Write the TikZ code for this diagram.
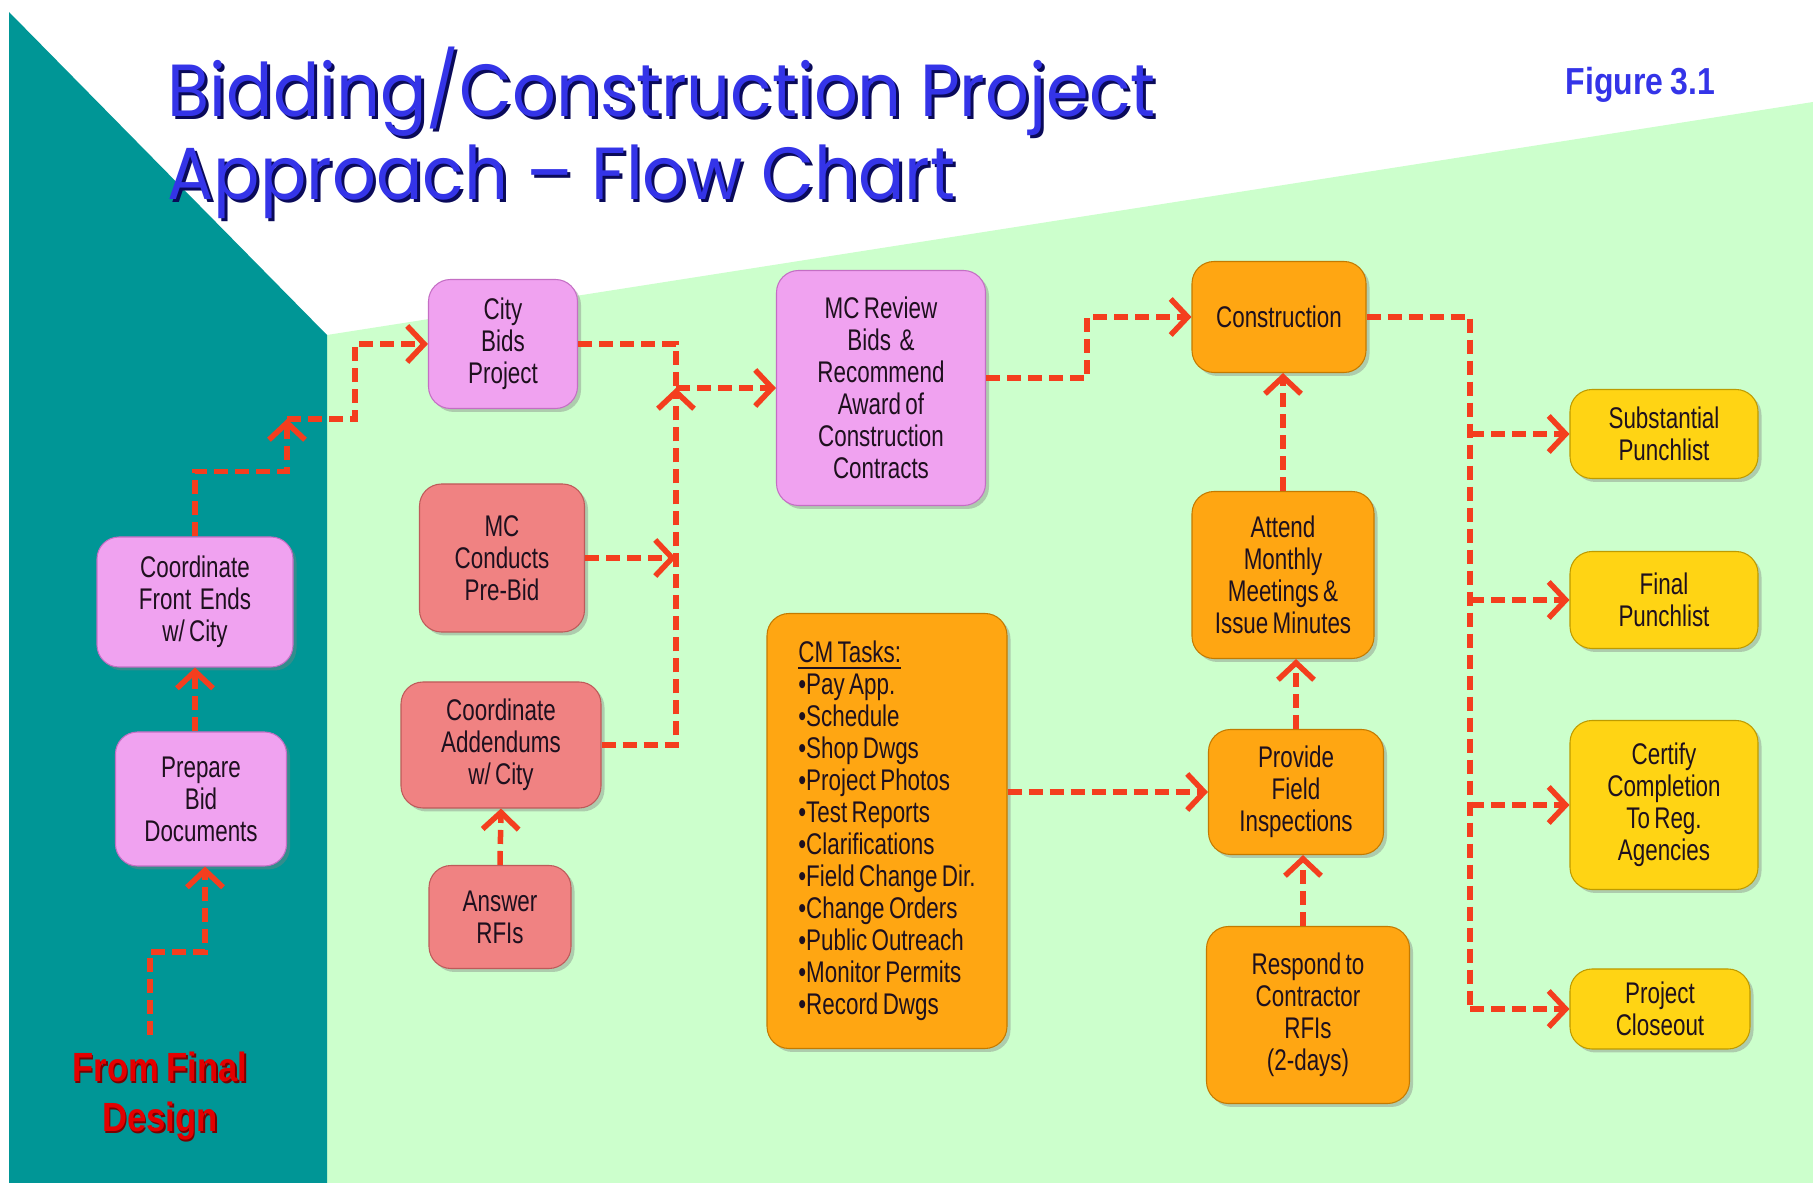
\documentclass[tikz,border=0pt]{standalone}
\usepackage{fontspec}
\setmainfont{Liberation Sans}[FakeStretch=0.75,WordSpace=0.7]
\newfontfamily\titlefont{Poppins}[FakeStretch=0.93]
\newfontfamily\figfont{Liberation Sans}[FakeStretch=0.85,WordSpace=0.8]
\usetikzlibrary{arrows.meta,shadows}
\definecolor{bggreen}{RGB}{204,255,204}
\definecolor{bgteal}{RGB}{0,150,150}
\definecolor{pinkfill}{RGB}{240,162,240}
\definecolor{pinkline}{RGB}{196,110,196}
\definecolor{salmonfill}{RGB}{240,130,130}
\definecolor{salmonline}{RGB}{190,90,90}
\definecolor{orangefill}{RGB}{255,166,18}
\definecolor{orangeline}{RGB}{196,122,0}
\definecolor{yellowfill}{RGB}{255,212,20}
\definecolor{yellowline}{RGB}{190,155,0}
\definecolor{arrowred}{RGB}{244,62,30}
\definecolor{boxtext}{RGB}{30,16,30}
\definecolor{titleblue}{RGB}{52,52,232}
\definecolor{titleshade}{RGB}{10,10,90}
\definecolor{designred}{RGB}{228,0,0}
\definecolor{designshade}{RGB}{120,0,0}
\newcommand{\shadowed}[3]{\makebox[0pt][l]{\hspace{#3}\raisebox{-#3}{\color{#1}#2}}#2}
\begin{document}
\begin{tikzpicture}[x=0.1mm,y=-0.1mm,
  box/.style={draw, rounded corners=2.2mm, line width=0.3pt, align=center, inner sep=0pt, text=boxtext,
    font=\fontsize{8.5}{9.1}\selectfont, drop shadow={shadow xshift=0.35mm,shadow yshift=-0.35mm,opacity=0.4}},
  pinkbox/.style={box, fill=pinkfill, draw=pinkline},
  salmonbox/.style={box, fill=salmonfill, draw=salmonline},
  orangebox/.style={box, fill=orangefill, draw=orangeline},
  yellowbox/.style={box, fill=yellowfill, draw=yellowline},
  flowline/.style={draw=arrowred, line width=0.55mm, dash pattern=on 1.4mm off 0.7mm},
  flow/.style={flowline, -{Straight Barb[length=1.7mm,width=3.6mm]}}]
\useasboundingbox (0,0) rectangle (1813,1183);
\fill[white] (0,0) rectangle (1813,1183);
\fill[bggreen] (327,335) -- (1813,102) -- (1813,1183) -- (327,1183) -- cycle;
\fill[bgteal] (9,12) -- (327,335) -- (327,1183) -- (9,1183) -- cycle;

\node[anchor=base west, inner sep=0pt, text=titleblue, font=\titlefont\fontsize{21}{24}\selectfont] (title1) at (167,117) {\shadowed{titleshade}{Bidding/Construction Project}{0.3mm}};
\node[anchor=base west, inner sep=0pt, text=titleblue, font=\titlefont\fontsize{21}{24}\selectfont] (title2) at (167,200) {\shadowed{titleshade}{Approach – Flow Chart}{0.3mm}};
\node[anchor=base west, inner sep=0pt, text=titleblue, font=\figfont\bfseries\fontsize{10.7}{12}\selectfont] (fig) at (1565,95) {Figure 3.1};
\node[align=center, inner sep=0pt, text=designred, font=\figfont\bfseries\fontsize{11.6}{14.2}\selectfont] (design) at (160,1097) {\shadowed{designshade}{From Final}{0.15mm}\\\shadowed{designshade}{Design}{0.15mm}};

\node[pinkbox, minimum width=19.6mm, minimum height=13mm] (front) at (195,602) {Coordinate\\Front\ \ Ends\\w/ City};
\node[pinkbox, minimum width=17.1mm, minimum height=13.4mm] (prep) at (201,799) {Prepare\\Bid\\Documents};
\node[pinkbox, minimum width=14.9mm, minimum height=12.9mm] (city) at (503,344) {City\\Bids\\Project};
\node[salmonbox, minimum width=16.5mm, minimum height=14.8mm] (mcc) at (502,558) {MC\\Conducts\\Pre-Bid};
\node[salmonbox, minimum width=20mm, minimum height=12.6mm] (addm) at (501,745) {Coordinate\\Addendums\\w/ City};
\node[salmonbox, minimum width=14.2mm, minimum height=10.3mm] (rfi) at (500,917) {Answer\\RFIs};
\node[pinkbox, minimum width=20.9mm, minimum height=23.5mm] (review) at (881,388) {MC Review\\Bids\ \ \&\\Recommend\\Award of\\Construction\\Contracts};
\node[orangebox, minimum width=24mm, minimum height=43.5mm, align=left] (tasks) at (887,831) {\underline{CM Tasks:}\\•Pay App.\\•Schedule\\•Shop Dwgs\\•Project Photos\\•Test Reports\\•Clarifications\\•Field Change Dir.\\•Change Orders\\•Public Outreach\\•Monitor Permits\\•Record Dwgs};
\node[orangebox, minimum width=17.4mm, minimum height=11.1mm] (constr) at (1279,317) {Construction};
\node[orangebox, minimum width=18.2mm, minimum height=16.7mm] (attend) at (1283,575) {Attend\\Monthly\\Meetings \&\\Issue Minutes};
\node[orangebox, minimum width=17.5mm, minimum height=12.5mm] (provide) at (1296,792) {Provide\\Field\\Inspections};
\node[orangebox, minimum width=20.3mm, minimum height=17.7mm] (respond) at (1308,1015) {Respond to\\Contractor\\RFIs\\(2-days)};
\node[yellowbox, minimum width=18.8mm, minimum height=8.9mm] (subst) at (1664,434) {Substantial\\Punchlist};
\node[yellowbox, minimum width=18.8mm, minimum height=9.7mm] (final) at (1664,600) {Final\\Punchlist};
\node[yellowbox, minimum width=18.8mm, minimum height=16.9mm] (certify) at (1664,805) {Certify\\Completion\\To Reg.\\Agencies};
\node[yellowbox, minimum width=18mm, minimum height=8mm] (closeout) at (1660,1009) {Project\\Closeout};

\coordinate (start) at (150,1035);
\coordinate (j1) at (287,419);
\coordinate (j2) at (676,388);
\coordinate (j3) at (1470,1009);

\draw[flow] (start) -- ++(0,-83) -| ([xshift=0.4mm]prep.south);
\draw[flow] (prep.north -| front) -- (front.south);
\draw[flow] (front.north) -- ++(0,-65) -| (j1);
\draw[flow] (j1) -- ++(68,0) |- (city.west);
\draw[flowline] (city.east) -| (j2);
\draw[flow] (mcc.east) -- (mcc.east -| j2);
\draw[flow] (addm.east) -| (j2);
\draw[flow] (rfi.north) -- (addm.south);
\draw[flow] (j2) -- (review.west);
\draw[flow] ([yshift=1mm]review.east) -- ++(101,0) |- (constr.west);
\draw[flow] (attend.north) -- (attend.north |- constr.south);
\draw[flow] (provide.north) -- (provide.north |- attend.south);
\draw[flow] ([xshift=-0.5mm]respond.north) -- ([xshift=-0.5mm]respond.north |- provide.south);
\draw[flow] (tasks.east |- provide.west) -- (provide.west);
\draw[flowline] (constr.east) -| (j3);
\draw[flow] (j3 |- subst.west) -- (subst.west);
\draw[flow] (j3 |- final.west) -- (final.west);
\draw[flow] (j3 |- certify.west) -- (certify.west);
\draw[flow] (j3) -- (closeout.west);
\end{tikzpicture}
\end{document}
